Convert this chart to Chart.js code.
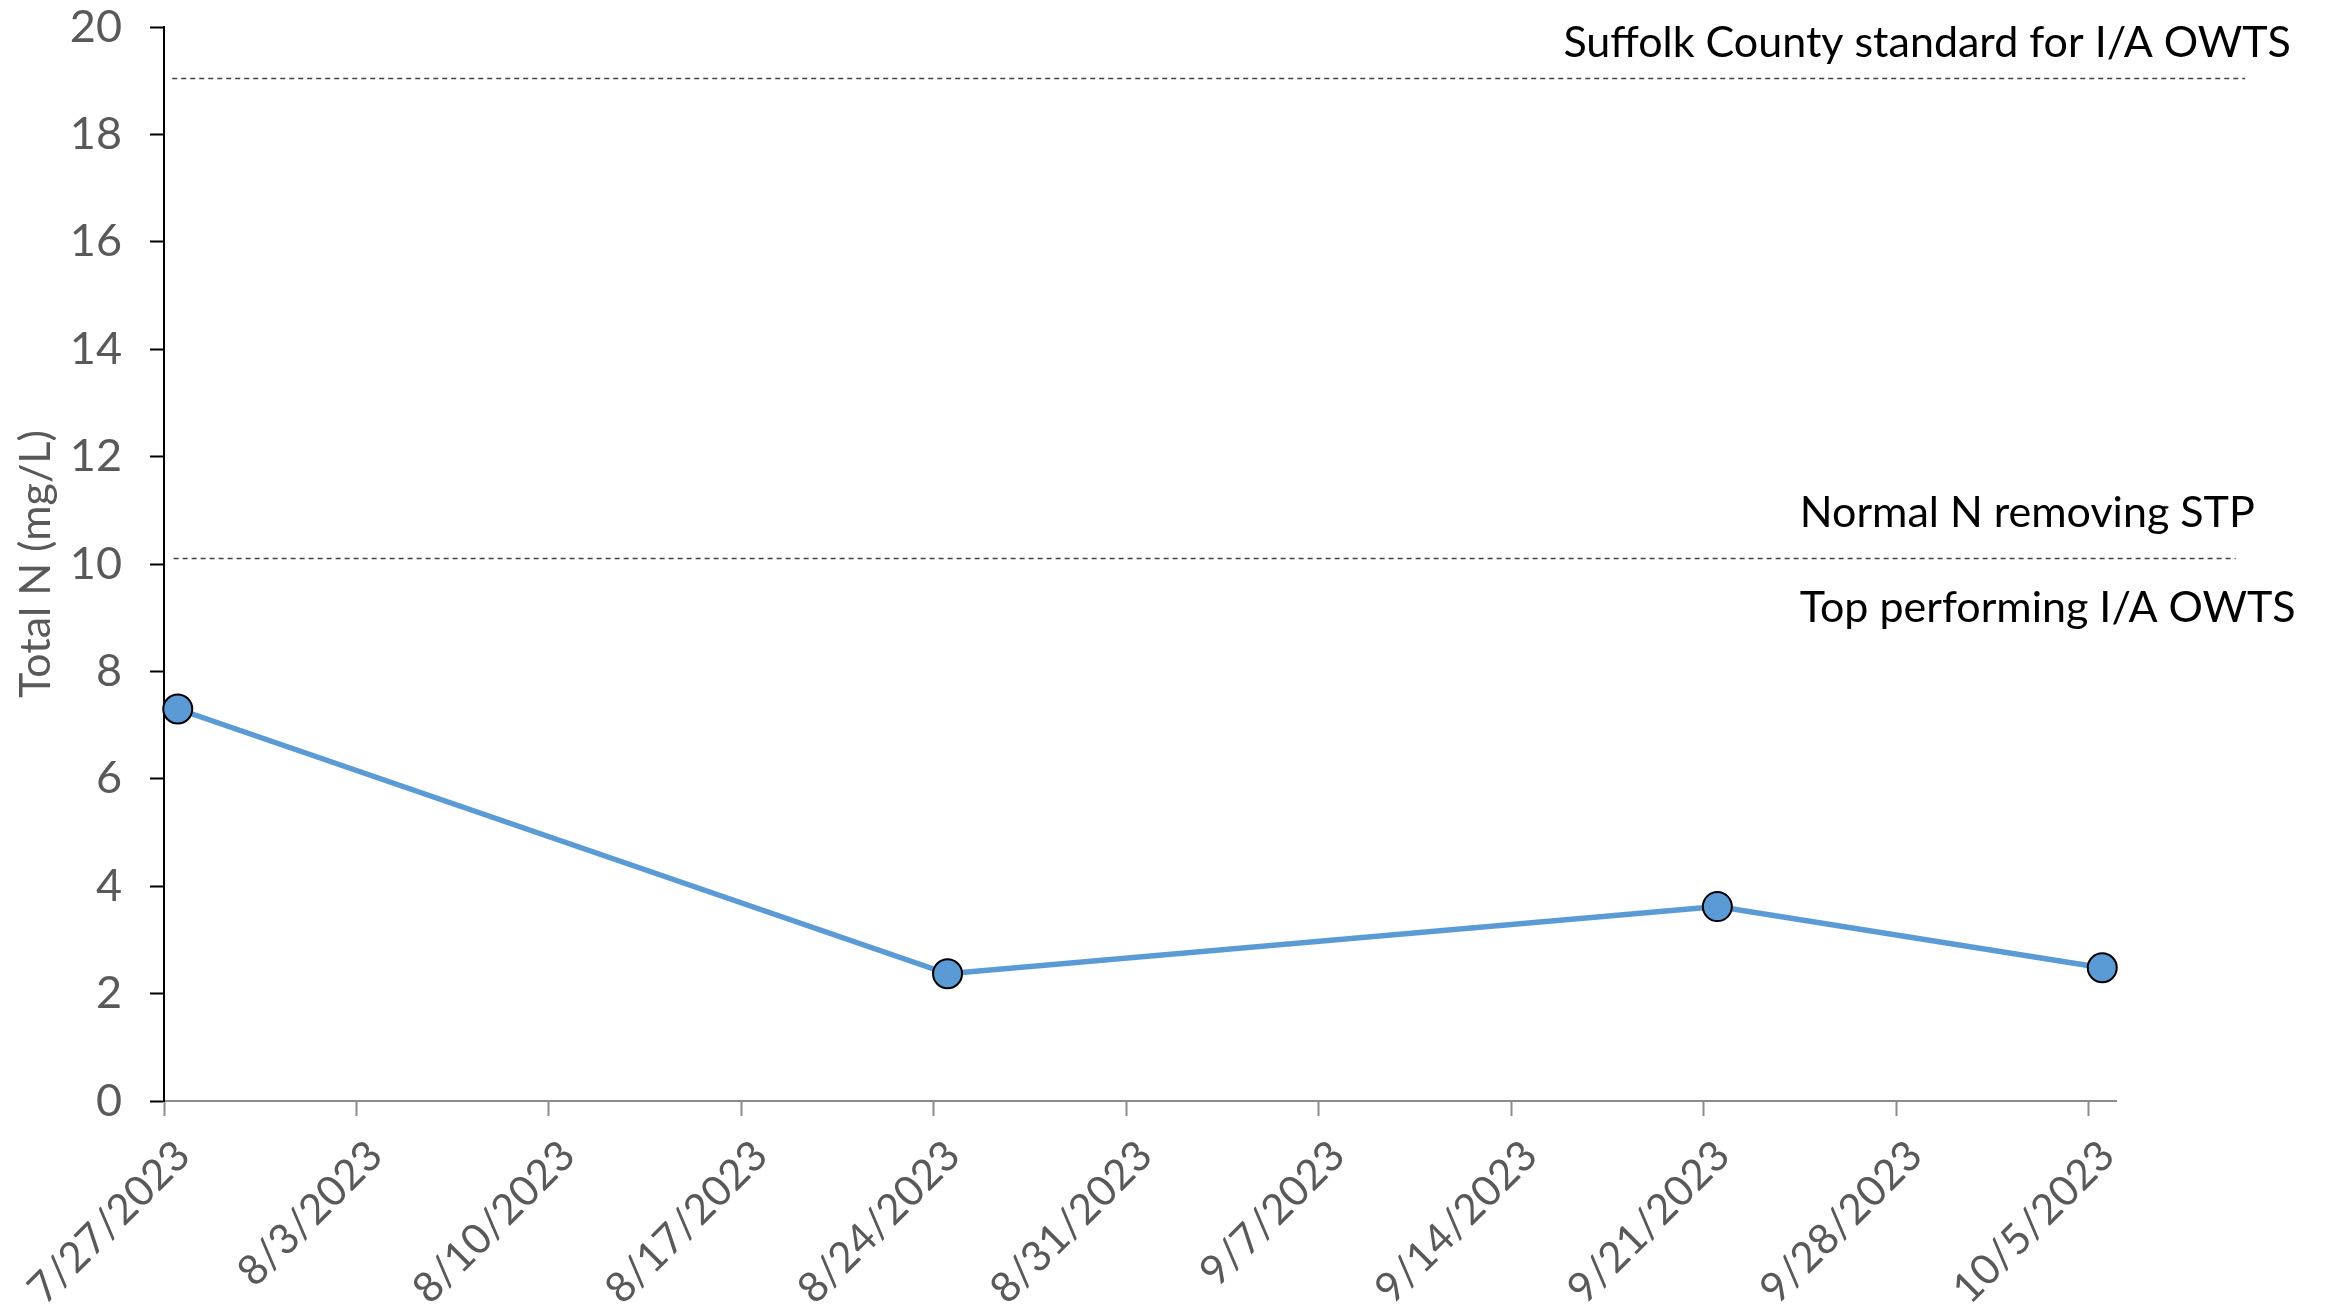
<!DOCTYPE html>
<html>
<head>
<meta charset="utf-8">
<script src="https://cdn.jsdelivr.net/npm/chart.js@4.4.1/dist/chart.umd.min.js"></script>
<style>
  html, body { margin: 0; padding: 0; background: #ffffff; }
  #wrap { width: 2330px; height: 1310px; position: relative; }
</style>
</head>
<body>
<div id="wrap"><canvas id="chart" width="2330" height="1310"></canvas></div>
<script>
// Sampling dates (noon) and total nitrogen results, mg/L
const sampleDates = ['2023-07-27T12:00', '2023-08-24T12:00', '2023-09-21T12:00', '2023-10-05T12:00'];
const totalN = [7.3, 2.37, 3.62, 2.48];

// Weekly tick labels on the date axis
const tickLabels = ['7/27/2023', '8/3/2023', '8/10/2023', '8/17/2023', '8/24/2023', '8/31/2023',
                    '9/7/2023', '9/14/2023', '9/21/2023', '9/28/2023', '10/5/2023'];

// Reference levels and their captions
const refLevels = [19.05, 10.12];
const refCaptions = ['Suffolk County standard for I/A OWTS', 'Normal N removing STP', 'Top performing I/A OWTS'];

// Days since the first tick date
const originMs = Date.UTC(2023, 6, 27);
function dayFromIso(s) {
  const [d, t] = s.split('T');
  const [y, m, dd] = d.split('-').map(Number);
  const [hh, mm] = (t || '00:00').split(':').map(Number);
  return (Date.UTC(y, m - 1, dd, hh, mm) - originMs) / 86400000;
}
function dayFromLabel(s) {
  const [m, d, y] = s.split('/').map(Number);
  return (Date.UTC(y, m - 1, d) - originMs) / 86400000;
}
const tickDays = tickLabels.map(dayFromLabel);
const points = sampleDates.map((s, i) => ({ x: dayFromIso(s), y: totalN[i] }));

const FONT = 'Lato, "Open Sans", sans-serif';
const GREY_TEXT = '#595959';

// Dotted reference lines with captions
const referencePlugin = {
  id: 'referenceLines',
  afterDatasetsDraw(chart) {
    const { ctx, scales: { x, y } } = chart;
    ctx.save();
    ctx.strokeStyle = '#404040';
    ctx.lineWidth = 1.5;
    ctx.setLineDash([5, 4]);
    const spans = [[0.3, 75.7], [0.35, 75.35]];
    refLevels.forEach((v, i) => {
      const py = Math.round(y.getPixelForValue(v)) + 0.5;
      ctx.beginPath();
      ctx.moveTo(x.getPixelForValue(spans[i][0]), py);
      ctx.lineTo(x.getPixelForValue(spans[i][1]), py);
      ctx.stroke();
    });
    ctx.setLineDash([]);
    ctx.fillStyle = '#000000';
    ctx.font = '43px ' + FONT;
    ctx.textAlign = 'left';
    ctx.textBaseline = 'alphabetic';
    const top = y.getPixelForValue(refLevels[0]);
    const mid = y.getPixelForValue(refLevels[1]);
    ctx.fillText(refCaptions[0], x.getPixelForValue(50.9), top - 21);
    ctx.fillText(refCaptions[1], x.getPixelForValue(59.5), mid - 31);
    ctx.fillText(refCaptions[2], x.getPixelForValue(59.5), mid + 64);
    ctx.restore();
  }
};

new Chart(document.getElementById('chart'), {
  type: 'line',
  data: {
    datasets: [{
      label: 'Total N',
      data: points,
      borderColor: '#5B9BD5',
      borderWidth: 5.5,
      backgroundColor: '#5B9BD5',
      pointBackgroundColor: '#5B9BD5',
      pointBorderColor: '#000000',
      pointBorderWidth: 2,
      pointRadius: 14.5,
      tension: 0,
      clip: false
    }]
  },
  options: {
    responsive: false,
    animation: false,
    events: [],
    layout: { padding: { top: 27, right: 214, bottom: 0, left: 0 } },
    plugins: { legend: { display: false }, tooltip: { enabled: false } },
    scales: {
      x: {
        type: 'linear',
        min: 0,
        max: 71,
        afterBuildTicks(scale) { scale.ticks = tickDays.map(v => ({ value: v })); },
        afterFit(scale) { scale.height = 209; scale.paddingLeft = 0; scale.paddingRight = 0; },
        border: { display: true, color: '#8c8c8c', width: 2 },
        grid: { display: true, drawOnChartArea: false, drawTicks: true, tickLength: 15, tickColor: '#8c8c8c', tickWidth: 2 },
        ticks: {
          autoSkip: false,
          minRotation: 45,
          maxRotation: 45,
          padding: 15,
          labelOffset: 19,
          color: GREY_TEXT,
          font: { family: FONT, size: 42 },
          callback(v) { const i = tickDays.indexOf(v); return i >= 0 ? tickLabels[i] : ''; }
        }
      },
      y: {
        min: 0,
        max: 20,
        afterFit(scale) { scale.width = 164; scale.paddingTop = 0; scale.paddingBottom = 0; },
        border: { display: true, color: '#000000', width: 2 },
        grid: { display: true, drawOnChartArea: false, drawTicks: true, tickLength: 14, tickColor: '#000000', tickWidth: 2 },
        ticks: { stepSize: 2, padding: 28, color: GREY_TEXT, font: { family: FONT, size: 45 } },
        title: {
          display: true,
          text: 'Total N (mg/L)',
          color: GREY_TEXT,
          font: { family: FONT, size: 43 },
          padding: { top: 10, bottom: 0 }
        }
      }
    }
  },
  plugins: [referencePlugin]
});
</script>
</body>
</html>
